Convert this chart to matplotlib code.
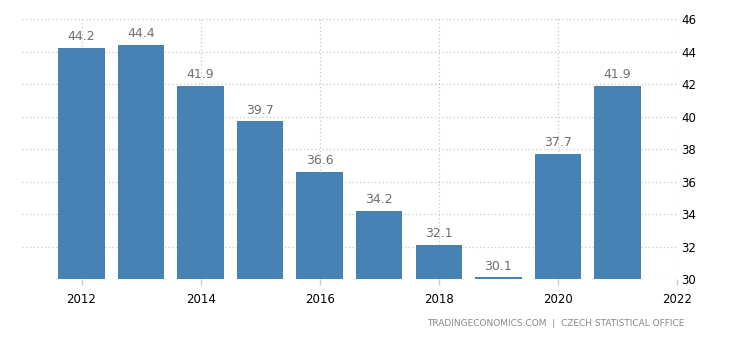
import matplotlib
matplotlib.use('Agg')
import matplotlib.pyplot as plt

# yearly values
years = [2012, 2013, 2014, 2015, 2016, 2017, 2018, 2019, 2020, 2021]
values = [44.2, 44.4, 41.9, 39.7, 36.6, 34.2, 32.1, 30.1, 37.7, 41.9]
x_ticks = [2012, 2014, 2016, 2018, 2020, 2022]
y_ticks = [30, 32, 34, 36, 38, 40, 42, 44, 46]

plt.rcParams['font.family'] = ['DejaVu Sans']
fig = plt.figure(figsize=(7.3, 3.4), dpi=100)
ax = fig.add_axes([0.0301, 0.1794, 0.8973, 0.7646])

ax.bar(years, [v - 30 for v in values], bottom=30, width=0.78, color='#4682b4', zorder=3)

# value labels above each bar
for yr, v in zip(years, values):
    ax.text(yr, v + 0.3, f'{v}', ha='center', va='bottom', fontsize=9, color='#707070', zorder=4)

ax.set_xlim(2011.0, 2022.0)
ax.set_ylim(30, 46)
ax.set_xticks(x_ticks)
ax.set_yticks(y_ticks)
ax.yaxis.tick_right()
ax.tick_params(axis='y', length=0, pad=3, labelsize=8.5, labelcolor='black')
ax.tick_params(axis='x', length=4, width=1, color='#cccccc', pad=6, labelsize=8.5, labelcolor='black')

ax.grid(True, linestyle=(0, (1, 2)), color='#c8c8c8', linewidth=0.9, zorder=0)
for s in ax.spines.values():
    s.set_visible(False)

fig.text(0.937, 0.035, 'TRADINGECONOMICS.COM  |  CZECH STATISTICAL OFFICE',
         ha='right', va='bottom', fontsize=6.5, color='#888888')

fig.savefig('out.png', dpi=100)
